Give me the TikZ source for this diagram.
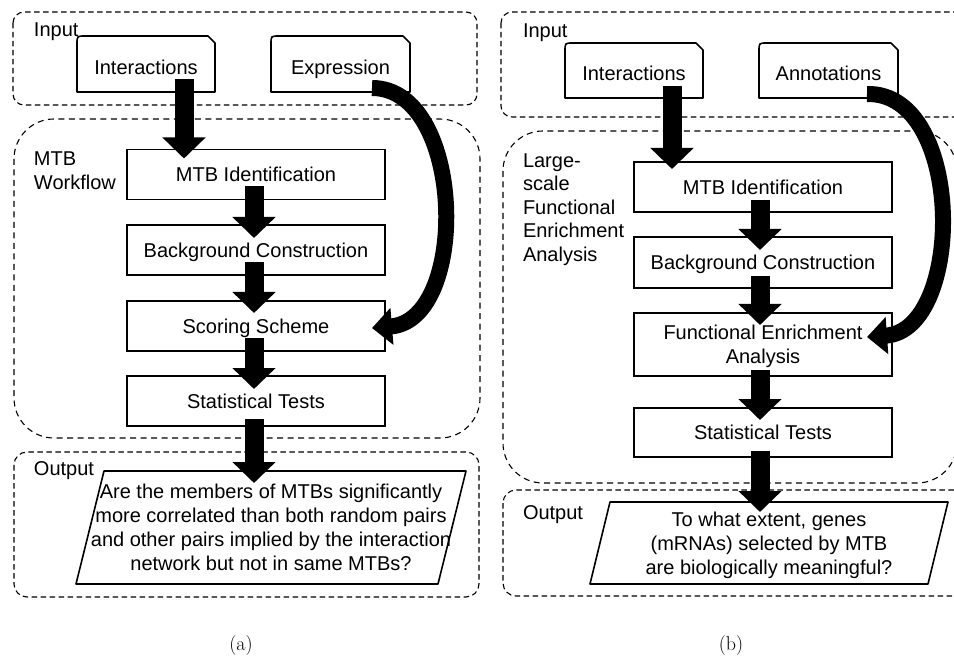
\documentclass[tikz,border=0pt]{standalone}
\usepackage{fontspec}
\setsansfont{Liberation Sans}
\usetikzlibrary{arrows.meta,calc}
\newcommand\inshape[1]{\draw[inline] (#1.south west) -- ([yshift=-8pt]#1.north west) .. controls (#1.north west) .. ([xshift=8pt]#1.north west) -- ([xshift=-7pt]#1.north east) -- ([yshift=-7pt]#1.north east) -- (#1.south east) -- cycle;}
\begin{document}
\begin{tikzpicture}[x=1pt,y=-1pt,
  every node/.style={inner sep=0pt, outer sep=0pt, font=\sffamily\fontsize{20}{24}\selectfont},
  grp/.style={draw=black, line width=1.1pt, dash pattern=on 5.5pt off 3.5pt},
  bigrp/.style={draw=black, line width=1.1pt, dash pattern=on 6pt off 4.5pt},
  procbox/.style={draw=black, line width=1.6pt, minimum width=258pt, minimum height=50pt, align=center},
  oneline/.style={text height=14.5pt, text depth=0pt},
  inbox/.style={minimum width=138pt, minimum height=56pt, text height=20.5pt, text depth=0pt},
  inline/.style={draw=black, line width=1.6pt, line join=round},
  outtext/.style={align=center, text depth=0pt},
  grplabel/.style={anchor=north west, align=left, font=\sffamily\fontsize{20}{23.5}\selectfont},
  blk/.style={line width=19pt, -{Triangle[length=21pt,width=42pt]}},
  curv/.style={line width=16pt, -{Triangle[length=20pt,width=36pt]}},
  capt/.style={font=\rmfamily\fontsize{20}{24}\selectfont}
]
\useasboundingbox (0,0) rectangle (954,663);
\clip (0,0) rectangle (954,663);

% ---------- panel (a) ----------
\draw[grp, rounded corners=11pt] (13,12) rectangle (477,105);
\draw[bigrp, rounded corners=40pt] (14,119) rectangle (480,438);
\draw[grp, rounded corners=13pt] (14,452) rectangle (479,597);

\node[grplabel] (ainlab) at (34,22.5) {Input};
\node[grplabel] (awflab) at (34,152) {MTB\\Workflow};
\node[grplabel] (aoutlab) at (34,462) {Output};

\node[inbox] (ainter) at (146,64) {Interactions};
\node[inbox, minimum width=139pt] (aexpr) at (340.5,64) {Expression};
\inshape{ainter}
\inshape{aexpr}

\node[procbox, oneline] (amtb) at (256,174.5) {MTB Identification};
\node[procbox, oneline] (abg) at (256,250) {Background Construction};
\node[procbox, oneline] (asc) at (256,326) {Scoring Scheme};
\node[procbox, oneline] (ast) at (256,401) {Statistical Tests};

\node[outtext, minimum width=362pt, minimum height=113pt] (aout) at (271,527.5)
  {Are the members of MTBs significantly\\more correlated than both random pairs\\and other pairs implied by the interaction\\network but not in same MTBs?};
\draw[inline] ([xshift=14pt]aout.north west) -- ([xshift=14pt]aout.north east)
  -- ([xshift=-14pt]aout.south east) -- ([xshift=-14pt]aout.south west) -- cycle;

\draw[blk] ([xshift=38pt,yshift=13pt]ainter.south) -- ([xshift=-72pt,yshift=-9pt]amtb.north);
\draw[blk] ([xshift=-2pt,yshift=13pt]amtb.south) -- ([xshift=-2pt,yshift=-13pt]abg.north);
\draw[blk] ([xshift=-2pt,yshift=13pt]abg.south) -- ([xshift=-2pt,yshift=-12pt]asc.north);
\draw[blk] ([xshift=-2pt,yshift=13pt]asc.south) -- ([xshift=-2pt,yshift=-13pt]ast.north);
\draw[blk] ([xshift=-2pt,yshift=7pt]ast.south) -- ([xshift=-17pt,yshift=-12pt]aout.north);

\coordinate (aexs) at (372,88);
\coordinate (ascr) at (372,328);
\draw[curv] (aexs) .. controls (465,88) and (470,320) .. (ascr);

\node[capt] (acap) at (241,646) {(a)};

% ---------- panel (b) ----------
\draw[grp, rounded corners=11pt] (501,12) rectangle (975,117);
\draw[bigrp, rounded corners=40pt] (503,131) rectangle (957,483);
\draw[grp, rounded corners=13pt] (503,490) rectangle (975,596);

\node[grplabel] (binlab) at (523,24) {Input};
\node[grplabel] (bfelab) at (523,153.5) {Large-\\scale\\Functional\\Enrichment\\Analysis};
\node[grplabel] (boutlab) at (523,506) {Output};

\node[inbox, minimum height=55pt] (binter) at (634,70.5) {Interactions};
\node[inbox, minimum width=139pt, minimum height=55pt] (bann) at (828.5,70.5) {Annotations};
\inshape{binter}
\inshape{bann}

\node[procbox, oneline] (bmtb) at (763,187) {MTB Identification};
\node[procbox, oneline, minimum height=51pt] (bbg) at (763,262.5) {Background Construction};
\node[procbox, minimum height=63pt, text depth=0pt] (bfe) at (763,344.5) {Functional Enrichment\\Analysis};
\node[procbox, oneline, minimum height=49pt] (bst) at (763,432.5) {Statistical Tests};

\node[outtext, minimum width=338pt, minimum height=82pt] (bout) at (769,543)
  {To what extent, genes\\(mRNAs) selected by MTB\\are biologically meaningful?};
\draw[inline] ([xshift=10pt]bout.north west) -- ([xshift=10pt]bout.north east)
  -- ([xshift=-10pt]bout.south east) -- ([xshift=-10pt]bout.south west) -- cycle;

\draw[blk] ([xshift=38pt,yshift=12pt]binter.south) -- ([xshift=-91pt,yshift=-7pt]bmtb.north);
\draw[blk] ([xshift=-3pt,yshift=12pt]bmtb.south) -- ([xshift=-3pt,yshift=-13pt]bbg.north);
\draw[blk] ([xshift=-3pt,yshift=12pt]bbg.south) -- ([xshift=-3pt,yshift=-12pt]bfe.north);
\draw[blk] ([xshift=-3pt,yshift=6pt]bfe.south) -- ([xshift=-3pt,yshift=-12pt]bst.north);
\draw[blk] ([xshift=-3pt,yshift=6pt]bst.south) -- ([xshift=-9pt,yshift=-10pt]bout.north);

\coordinate (bans) at (867,94);
\coordinate (bfer) at (867,337);
\draw[curv] (bans) .. controls (965,92) and (965,330) .. (bfer);

\node[capt] (bcap) at (731,646) {(b)};
\end{tikzpicture}
\end{document}
